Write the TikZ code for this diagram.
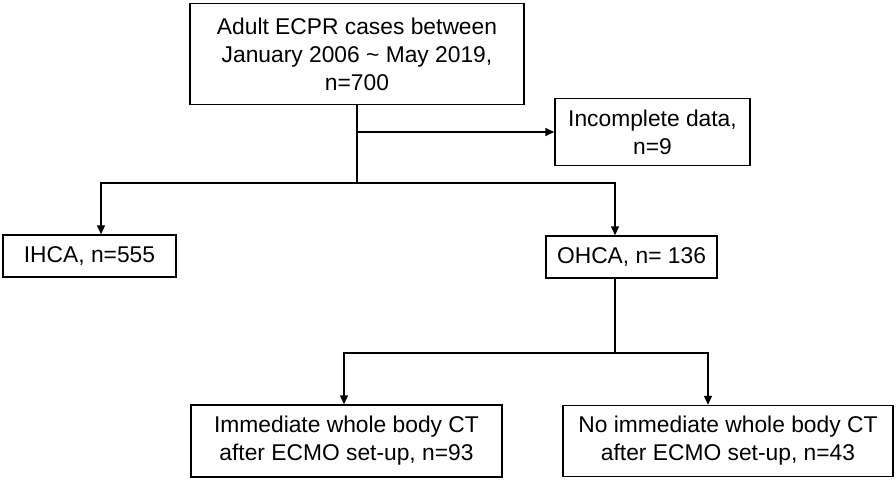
\documentclass[tikz,border=0pt]{standalone}
\usepackage{fontspec}
\setmainfont{Liberation Sans}
\usetikzlibrary{arrows.meta}
\begin{document}
\begin{tikzpicture}[x=1pt,y=-1pt,
  box/.style={draw,line width=1.5pt,align=center,inner sep=0pt,font=\fontsize{22.8}{28}\selectfont},
  conn/.style={line width=1.5pt},
  arr/.style={conn,-{Triangle[length=9pt,width=8pt]}}]
\useasboundingbox (0,0) rectangle (896,480);
\node[box,minimum width=334pt,minimum height=101pt] (top) at (357,54) {Adult ECPR cases between\\January 2006 \textasciitilde{} May 2019,\\n=700};
\node[box,minimum width=195pt,minimum height=67pt] (inc) at (652.5,132) {Incomplete data,\\n=9};
\node[box,minimum width=173pt,minimum height=42pt] (ihca) at (89.5,256) {IHCA, n=555};
\node[box,minimum width=171pt,minimum height=42pt] (ohca) at (631.5,257) {OHCA, n= 136};
\node[box,minimum width=311pt,minimum height=72pt] (ct) at (346.5,441) {Immediate whole body CT\\after ECMO set-up, n=93};
\node[box,minimum width=330pt,minimum height=71pt] (noct) at (728,441) {No immediate whole body CT\\after ECMO set-up, n=43};
\coordinate (j1) at (357,183);
\coordinate (b1) at (357,132);
\coordinate (j2) at (615,353);
\draw[conn] (top.south) -- (j1);
\draw[arr] (b1) -- (inc.west);
\draw[arr] (j1) -| ([xshift=11.5pt]ihca.north);
\draw[arr] (j1) -| ([xshift=-16.5pt]ohca.north);
\draw[conn] ([xshift=-16.5pt]ohca.south) -- (j2);
\draw[arr] (j2) -| ([xshift=-2.5pt]ct.north);
\draw[arr] (j2) -| ([xshift=-20pt]noct.north);
\end{tikzpicture}
\end{document}
